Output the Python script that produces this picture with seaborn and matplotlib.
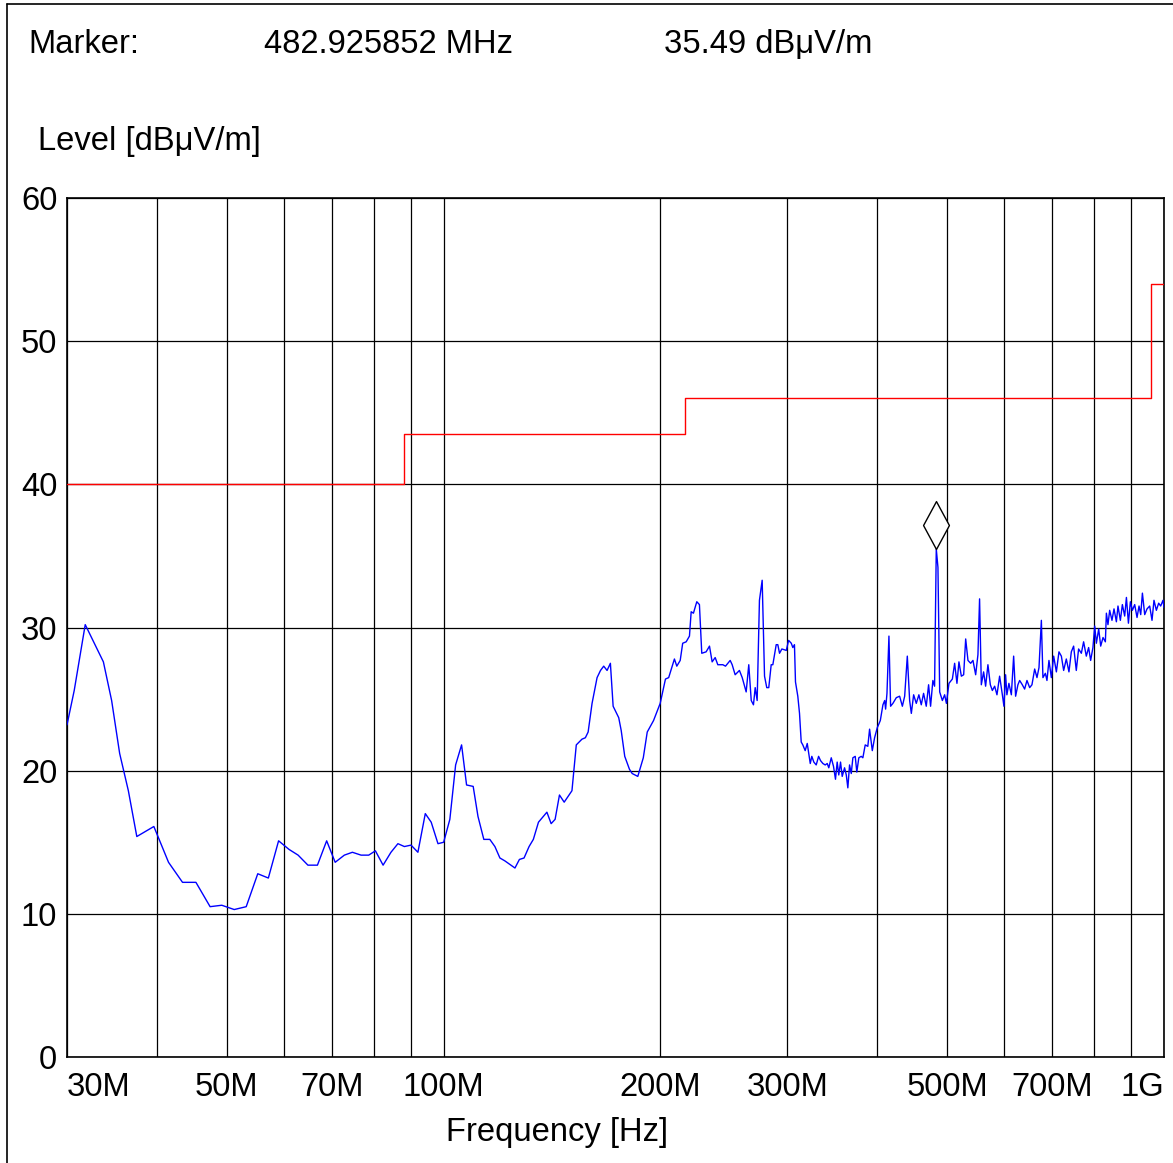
import numpy as np
import pandas as pd
import matplotlib.pyplot as plt
import seaborn as sns
from matplotlib.path import Path
from matplotlib.lines import Line2D

# Measured trace (frequency in MHz, level in dBuV/m)
freq_mhz = [
    30.0, 30.7, 31.8, 33.7, 34.6, 35.5, 36.5, 37.5, 39.6, 41.5,
    43.4, 45.3, 47.4, 49.2, 51.2, 53.2, 55.2, 57.1, 59.0, 61.0,
    62.8, 64.8, 66.8, 68.8, 70.7, 72.8, 74.7, 76.8, 78.7, 80.4,
    82.4, 84.5, 86.4, 88.2, 90.1, 92.1, 94.3, 96.1, 98.2, 100.0,
    102.0, 103.9, 105.9, 107.6, 109.9, 111.6, 113.7, 115.9, 117.8, 119.7,
    121.6, 125.6, 127.4, 129.3, 131.4, 133.2, 135.4, 139.1, 141.0, 142.8,
    144.8, 147.0, 150.7, 152.8, 155.6, 157.3, 158.7, 160.7, 163.3, 165.1,
    166.8, 168.6, 170.4, 171.9, 175.0, 176.4, 178.4, 181.1, 182.7, 186.0,
    189.3, 191.7, 195.6, 199.8, 203.2, 205.3, 209.1, 210.7, 213.0, 214.7,
    217.1, 219.4, 220.6, 222.2, 224.6, 226.5, 228.2, 231.4, 233.9, 235.9,
    238.2, 240.2, 244.1, 246.2, 248.0, 249.9, 251.5, 253.9, 257.4, 259.7,
    263.0, 265.2, 267.3, 269.2, 270.7, 272.4, 274.4, 276.8, 278.9, 280.9,
    282.7, 284.9, 286.4, 289.5, 291.0, 292.6, 294.8, 299.0, 301.2, 303.8,
    305.3, 306.9, 307.9, 310.2, 311.9, 313.6, 315.2, 317.6, 319.7, 322.8,
    324.4, 326.5, 329.0, 331.5, 333.6, 336.1, 338.6, 340.8, 342.5, 345.2,
    347.7, 349.9, 351.8, 353.6, 355.6, 357.5, 360.2, 362.2, 364.0, 366.0,
    368.0, 369.9, 372.7, 374.6, 377.0, 379.9, 381.9, 384.8, 388.0, 390.2,
    393.6, 396.5, 399.9, 403.8, 407.2, 409.5, 410.7, 412.5, 415.1, 417.3,
    420.4, 425.0, 429.5, 433.3, 436.5, 440.2, 443.5, 445.9, 449.2, 453.0,
    456.8, 460.3, 463.7, 467.7, 471.2, 474.2, 477.7, 480.3, 482.9, 485.5,
    488.2, 492.4, 496.0, 498.8, 502.9, 508.4, 512.1, 515.9, 519.2, 523.2,
    527.1, 530.5, 534.4, 539.0, 543.0, 547.7, 551.7, 554.6, 557.7, 561.8,
    565.4, 569.6, 574.0, 577.7, 582.0, 586.3, 591.3, 596.5, 599.5, 602.7,
    605.2, 609.1, 613.9, 618.4, 622.3, 626.9, 630.4, 635.8, 640.5, 645.3,
    650.9, 655.7, 661.4, 666.3, 670.6, 675.7, 679.1, 684.4, 687.9, 692.3,
    697.6, 702.8, 708.9, 714.8, 720.3, 725.6, 731.8, 738.0, 743.6, 749.1,
    755.5, 761.1, 767.8, 773.4, 780.1, 785.9, 791.0, 796.8, 801.3, 805.6,
    811.6, 816.8, 822.9, 829.1, 831.8, 836.0, 840.6, 846.8, 852.3, 858.8,
    863.2, 869.8, 875.4, 881.9, 886.8, 892.5, 898.1, 903.9, 910.6, 917.4,
    923.3, 928.3, 933.3, 940.2, 947.2, 955.3, 962.4, 968.5, 975.9, 983.1,
    989.4, 996.8, 1000.0,
]
level_db = [
    23.2, 25.6, 30.2, 27.6, 24.9, 21.2, 18.6, 15.4, 16.1, 13.6,
    12.2, 12.2, 10.5, 10.6, 10.3, 10.5, 12.8, 12.5, 15.1, 14.5,
    14.1, 13.4, 13.4, 15.1, 13.6, 14.1, 14.3, 14.1, 14.1, 14.4,
    13.4, 14.3, 14.9, 14.7, 14.8, 14.3, 17.0, 16.4, 14.9, 15.0,
    16.6, 20.4, 21.8, 19.0, 18.9, 16.8, 15.2, 15.2, 14.7, 13.9,
    13.7, 13.2, 13.8, 13.9, 14.7, 15.2, 16.4, 17.1, 16.3, 16.6,
    18.3, 17.8, 18.6, 21.8, 22.2, 22.3, 22.7, 24.7, 26.5, 27.0,
    27.3, 27.0, 27.5, 24.5, 23.7, 22.8, 21.0, 20.1, 19.8, 19.6,
    20.9, 22.7, 23.5, 24.7, 26.4, 26.5, 27.8, 27.3, 27.7, 28.9,
    29.0, 29.4, 31.1, 31.0, 31.8, 31.6, 28.2, 28.3, 28.7, 27.6,
    27.9, 27.4, 27.4, 27.3, 27.5, 27.7, 27.4, 26.7, 27.0, 26.5,
    25.5, 27.4, 24.9, 24.6, 25.8, 24.9, 31.9, 33.3, 26.6, 25.8,
    25.8, 27.4, 27.4, 28.8, 28.8, 28.2, 28.5, 28.4, 29.1, 28.9,
    28.6, 28.8, 26.2, 25.2, 24.0, 22.0, 21.8, 21.4, 21.9, 20.5,
    21.0, 20.6, 20.4, 21.0, 20.7, 20.5, 20.4, 20.5, 20.2, 20.9,
    20.3, 19.4, 20.6, 19.7, 20.6, 19.6, 20.2, 19.7, 18.8, 20.4,
    19.8, 20.9, 21.0, 19.9, 20.9, 21.0, 20.9, 21.8, 21.7, 22.9,
    21.4, 22.3, 23.0, 23.5, 24.6, 24.9, 24.3, 25.4, 29.4, 24.5,
    24.7, 25.1, 25.2, 24.5, 25.2, 28.0, 24.9, 24.0, 25.3, 24.7,
    25.3, 24.6, 25.4, 24.5, 26.0, 24.5, 26.3, 25.9, 35.49, 34.2,
    25.5, 24.9, 25.3, 24.7, 26.1, 26.4, 27.5, 26.1, 27.6, 26.6,
    26.7, 29.2, 27.7, 27.5, 27.7, 26.7, 28.1, 32.0, 26.0, 26.9,
    25.9, 27.4, 26.0, 25.6, 25.9, 25.3, 26.6, 25.3, 24.5, 26.7,
    25.3, 26.1, 25.3, 28.0, 25.2, 26.0, 26.3, 26.0, 25.7, 26.3,
    25.8, 26.0, 27.1, 26.5, 27.2, 30.5, 26.5, 26.8, 26.3, 27.7,
    26.5, 28.0, 26.9, 28.3, 28.0, 27.0, 27.8, 26.9, 28.3, 28.7,
    27.0, 28.5, 28.2, 29.0, 28.0, 28.6, 27.7, 28.6, 30.1, 28.9,
    29.9, 28.7, 29.3, 29.0, 31.0, 30.2, 31.2, 30.5, 31.3, 30.4,
    31.5, 30.5, 31.6, 30.8, 32.1, 30.3, 31.8, 31.2, 31.6, 30.7,
    31.5, 30.9, 32.4, 30.9, 31.3, 31.5, 30.5, 31.9, 31.2, 31.7,
    31.5, 31.9, 31.4,
]

# Limit line (step edges)
limit_freq = [30, 88, 216, 960, 1000]
limit_level = [40, 43.5, 46, 54, 54]

# Marker
marker_freq = 482.925852
marker_level = 35.49

# Axis ticks
tick_freq = [30, 40, 50, 60, 70, 80, 90, 100, 200, 300, 400, 500, 600, 700, 800, 900, 1000]
tick_text = ['30M', '', '50M', '', '70M', '', '', '100M', '200M', '300M', '', '500M', '', '700M', '', '', '1G']
level_ticks = [0, 10, 20, 30, 40, 50, 60]

sns.set_style('white')
plt.rcParams['font.family'] = ['Liberation Sans', 'DejaVu Sans']
plt.rcParams['text.color'] = 'black'
fs = 23.6

W, H = 1173, 1163
fig = plt.figure(figsize=(W / 100, H / 100), dpi=100)
ax = fig.add_axes([67 / W, 1 - 1057 / H, (1164 - 67) / W, (1057 - 198) / H])

trace = pd.DataFrame({'freq': freq_mhz, 'level': level_db})
limit = pd.DataFrame({'freq': limit_freq, 'level': limit_level})

sns.lineplot(data=trace, x='freq', y='level', ax=ax, color='#0000ff', lw=1.0,
             sort=False, estimator=None, zorder=3)
sns.lineplot(data=limit, x='freq', y='level', ax=ax, color='#ff0000', lw=1.0,
             drawstyle='steps-post', sort=False, estimator=None, zorder=3)

# diamond marker sitting on top of the peak
verts = [(0, 0), (-0.27, 0.5), (0, 1), (0.27, 0.5), (0, 0)]
codes = [Path.MOVETO, Path.LINETO, Path.LINETO, Path.LINETO, Path.CLOSEPOLY]
ax.plot([marker_freq], [marker_level], marker=Path(verts, codes), ms=69,
        mfc='white', mec='black', mew=1.0, ls='none', zorder=5)

ax.set_xscale('log')
ax.set_xlim(30, 1000)
ax.set_ylim(0, 60)
ax.minorticks_off()
ax.set_xticks(tick_freq)
ax.set_xticklabels(tick_text)
ax.set_yticks(level_ticks)
ax.tick_params(axis='both', length=0, labelsize=fs, colors='black')
ax.tick_params(axis='x', pad=10.5)
ax.tick_params(axis='y', pad=7)
xl = ax.get_xticklabels()
xl[0].set_ha('left')
xl[-1].set_ha('right')
ax.grid(True, color='black', lw=0.9)
ax.set_xlabel('')
ax.set_ylabel('')
for s in ax.spines.values():
    s.set_color('black')
    s.set_linewidth(1.2)

# header texts
y_head = 1 - 53 / H
fig.text(28 / W, y_head, 'Marker:', fontsize=fs, va='baseline')
fig.text(264 / W, y_head, '482.925852 MHz', fontsize=fs, va='baseline')
fig.text(664 / W, y_head, '35.49 dBμV/m', fontsize=fs, va='baseline')
fig.text(38 / W, 1 - 150 / H, 'Level [dBμV/m]', fontsize=fs, va='baseline')
fig.text(557 / W, 1 - 1141 / H, 'Frequency [Hz]', fontsize=fs, ha='center', va='baseline')

# outer frame (left and top edges)
fig.add_artist(Line2D([7 / W, 7 / W], [0, 1 - 4 / H], transform=fig.transFigure, color='black', lw=1.2))
fig.add_artist(Line2D([7 / W, 1], [1 - 4 / H, 1 - 4 / H], transform=fig.transFigure, color='black', lw=1.2))

fig.savefig('out.png', dpi=100)
